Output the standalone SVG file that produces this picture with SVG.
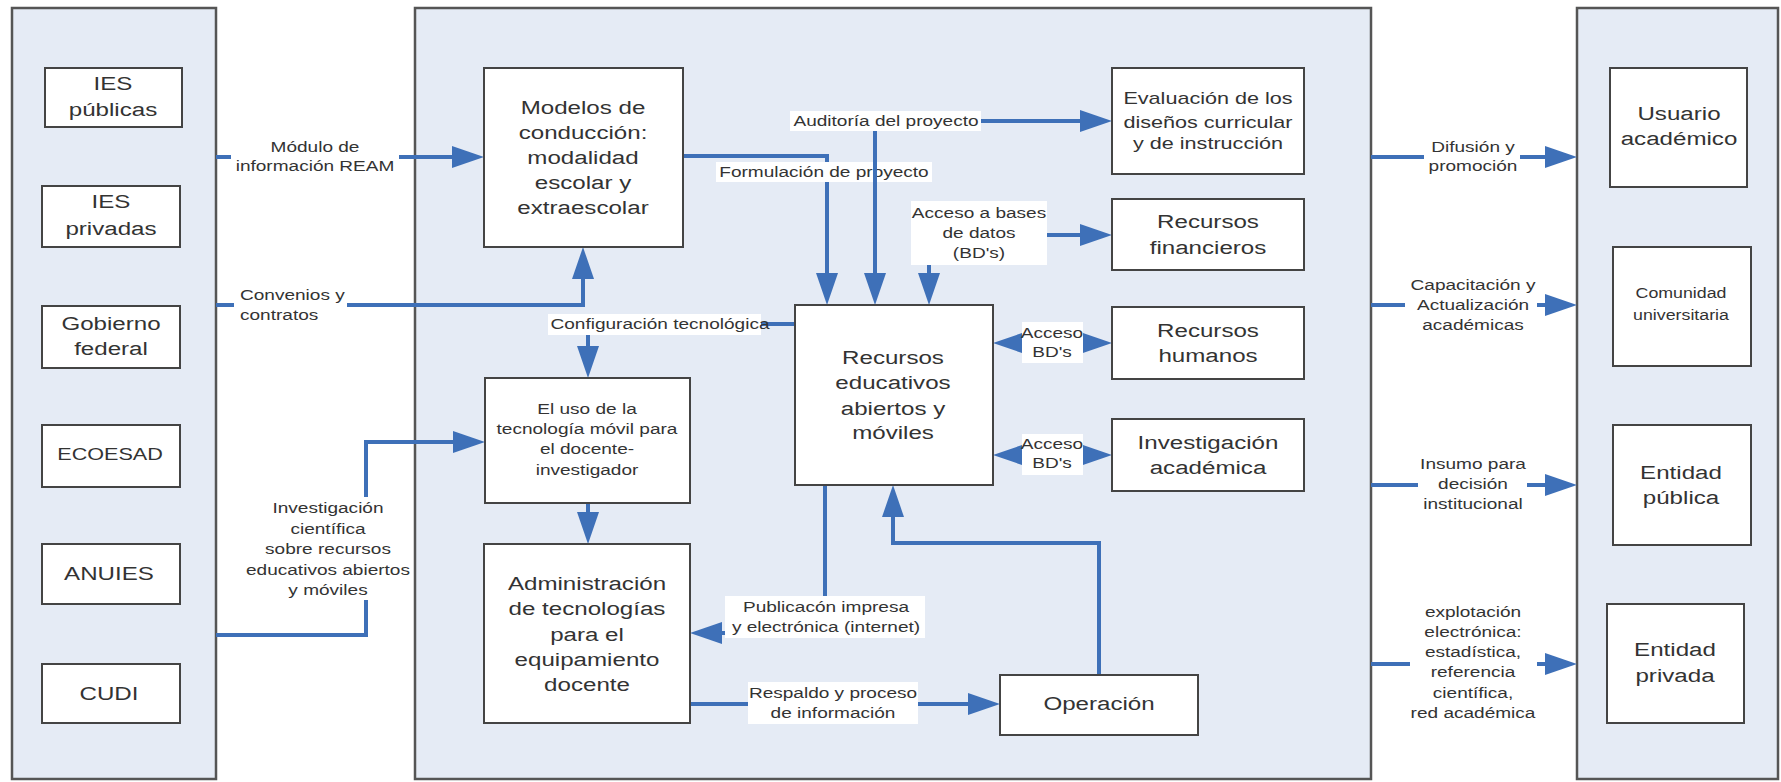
<svg xmlns="http://www.w3.org/2000/svg" width="1781" height="782" viewBox="0 0 1781 782">
<style>
.panel{fill:#e5ebf5;stroke:#555;stroke-width:2.5}
.box{fill:#fff;stroke:#444;stroke-width:2}
.ln{fill:none;stroke:#3e70b8;stroke-width:4}
.arr{marker-end:url(#ah)}
.dbl{marker-start:url(#ah);marker-end:url(#ah)}
.lb{fill:#fff}
text{font-family:"Liberation Sans",Arial,sans-serif;fill:#333;text-anchor:middle}
.t19{font-size:19px}
.t17{font-size:17px}
.t15{font-size:15px}
.t14{font-size:14px}
.st{text-anchor:start}
</style>
<defs>
<marker id="ah" markerUnits="userSpaceOnUse" markerWidth="32" markerHeight="22" viewBox="0 0 32 22" refX="24" refY="11" orient="auto-start-reverse">
<path d="M0,0 L32,11 L0,22 Z" fill="#3e70b8"/>
</marker>
</defs>

<g id="panels">
<rect id="panel-left" class="panel" x="12" y="8" width="204" height="771"/>
<rect id="panel-center" class="panel" x="415" y="8" width="956" height="771"/>
<rect id="panel-right" class="panel" x="1577" y="8" width="201" height="771"/>
</g>

<g id="connectors">
<path class="ln arr" d="M216,157 H476"/>
<path class="ln arr" d="M216,305 H583 V255"/>
<path class="ln arr" d="M216,635 H366 V442 H477"/>
<path class="ln arr" d="M683,156 H827 V297"/>
<path class="ln arr" d="M875,121 H1104"/>
<path class="ln arr" d="M1047,235 H1104"/>
<path class="ln arr" d="M929,255 V297"/>
<path class="ln" d="M760,324 H795"/>
<path class="ln arr" d="M588,324 V370"/>
<path class="ln dbl" d="M1001,343 H1104"/>
<path class="ln dbl" d="M1001,455 H1104"/>
<path class="ln arr" d="M588,503 V536"/>
<path class="ln arr" d="M825,485 V633 H698"/>
<path class="ln arr" d="M690,704 H992"/>
<path class="ln arr" d="M1099,675 V543 H893 V493"/>
<path class="ln arr" d="M1371,157 H1569"/>
<path class="ln arr" d="M1371,305 H1569"/>
<path class="ln arr" d="M1371,485 H1569"/>
<path class="ln arr" d="M1371,664 H1569"/>

<g id="labels">
<rect class="lb" x="231" y="137" width="168" height="39"/>
<text class="t15" transform="matrix(1.27 0 0 1 315 0)"><tspan x="0" y="152">Módulo de</tspan><tspan x="0" y="171">información REAM</tspan></text>

<rect class="lb" x="234" y="285" width="113" height="40"/>
<text class="t15 st" transform="matrix(1.27 0 0 1 240 0)"><tspan x="0" y="300">Convenios y</tspan><tspan x="0" y="320">contratos</tspan></text>

<rect class="lb" x="244" y="497" width="169" height="103"/>
<text class="t15" transform="matrix(1.27 0 0 1 328 0)"><tspan x="0" y="513">Investigación</tspan><tspan x="0" y="534">científica</tspan><tspan x="0" y="554">sobre recursos</tspan><tspan x="0" y="575">educativos abiertos</tspan><tspan x="0" y="595">y móviles</tspan></text>

<rect class="lb" x="716" y="162" width="216" height="20"/>
<text class="t15" transform="matrix(1.27 0 0 1 824 0)"><tspan x="0" y="177">Formulación de proyecto</tspan></text>

<rect class="lb" x="790" y="111" width="191" height="20"/>
<text class="t15" transform="matrix(1.27 0 0 1 886 0)"><tspan x="0" y="126">Auditoría del proyecto</tspan></text>
<path class="ln arr" d="M875,131 V297"/>

<rect class="lb" x="911" y="201" width="136" height="64"/>
<text class="t15" transform="matrix(1.27 0 0 1 979 0)"><tspan x="0" y="218">Acceso a bases</tspan><tspan x="0" y="238">de datos</tspan><tspan x="0" y="258">(BD's)</tspan></text>

<rect class="lb" x="548" y="314" width="213" height="21"/>
<text class="t15" transform="matrix(1.27 0 0 1 660 0)"><tspan x="0" y="329">Configuración tecnológica</tspan></text>

<rect class="lb" x="1022" y="322" width="61" height="41"/>
<text class="t15" transform="matrix(1.27 0 0 1 1052 0)"><tspan x="0" y="338">Acceso</tspan><tspan x="0" y="357">BD's</tspan></text>

<rect class="lb" x="1022" y="434" width="61" height="41"/>
<text class="t15" transform="matrix(1.27 0 0 1 1052 0)"><tspan x="0" y="449">Acceso</tspan><tspan x="0" y="468">BD's</tspan></text>

<rect class="lb" x="725" y="596" width="200" height="42"/>
<text class="t15" transform="matrix(1.27 0 0 1 826 0)"><tspan x="0" y="612">Publicacón impresa</tspan><tspan x="0" y="632">y electrónica (internet)</tspan></text>

<rect class="lb" x="748" y="682" width="170" height="42"/>
<text class="t15" transform="matrix(1.27 0 0 1 833 0)"><tspan x="0" y="698">Respaldo y proceso</tspan><tspan x="0" y="718">de información</tspan></text>

<rect class="lb" x="1424" y="137" width="96" height="39"/>
<text class="t15" transform="matrix(1.27 0 0 1 1473 0)"><tspan x="0" y="152">Difusión y</tspan><tspan x="0" y="171">promoción</tspan></text>

<rect class="lb" x="1405" y="275" width="132" height="61"/>
<text class="t15" transform="matrix(1.27 0 0 1 1473 0)"><tspan x="0" y="290">Capacitación y</tspan><tspan x="0" y="310">Actualización</tspan><tspan x="0" y="330">académicas</tspan></text>

<rect class="lb" x="1418" y="454" width="109" height="61"/>
<text class="t15" transform="matrix(1.27 0 0 1 1473 0)"><tspan x="0" y="469">Insumo para</tspan><tspan x="0" y="489">decisión</tspan><tspan x="0" y="509">institucional</tspan></text>

<rect class="lb" x="1410" y="601" width="127" height="123"/>
<text class="t15" transform="matrix(1.27 0 0 1 1473 0)"><tspan x="0" y="617">explotación</tspan><tspan x="0" y="637">electrónica:</tspan><tspan x="0" y="657">estadística,</tspan><tspan x="0" y="677">referencia</tspan><tspan x="0" y="698">científica,</tspan><tspan x="0" y="718">red académica</tspan></text>
</g>
</g>

<g id="node-ies-publicas"><rect class="box" x="45" y="68" width="137" height="59"/>
<text class="t19" transform="matrix(1.27 0 0 1 113 0)"><tspan x="0" y="90">IES</tspan><tspan x="0" y="116">públicas</tspan></text></g>
<g id="node-ies-privadas"><rect class="box" x="42" y="186" width="138" height="61"/>
<text class="t19" transform="matrix(1.27 0 0 1 111 0)"><tspan x="0" y="208">IES</tspan><tspan x="0" y="235">privadas</tspan></text></g>
<g id="node-gobierno"><rect class="box" x="42" y="306" width="138" height="62"/>
<text class="t19" transform="matrix(1.27 0 0 1 111 0)"><tspan x="0" y="330">Gobierno</tspan><tspan x="0" y="355">federal</tspan></text></g>
<g id="node-ecoesad"><rect class="box" x="42" y="425" width="138" height="62"/>
<text class="t17" transform="matrix(1.27 0 0 1 110 0)"><tspan x="0" y="460">ECOESAD</tspan></text></g>
<g id="node-anuies"><rect class="box" x="42" y="544" width="138" height="60"/>
<text class="t19" transform="matrix(1.27 0 0 1 109 0)"><tspan x="0" y="580">ANUIES</tspan></text></g>
<g id="node-cudi"><rect class="box" x="42" y="664" width="138" height="59"/>
<text class="t19" transform="matrix(1.27 0 0 1 109 0)"><tspan x="0" y="700">CUDI</tspan></text></g>

<g id="node-modelos"><rect class="box" x="484" y="68" width="199" height="179"/>
<text class="t19" transform="matrix(1.27 0 0 1 583 0)"><tspan x="0" y="114">Modelos de</tspan><tspan x="0" y="139">conducción:</tspan><tspan x="0" y="164">modalidad</tspan><tspan x="0" y="189">escolar y</tspan><tspan x="0" y="214">extraescolar</tspan></text></g>
<g id="node-uso"><rect class="box" x="485" y="378" width="205" height="125"/>
<text class="t15" transform="matrix(1.27 0 0 1 587 0)"><tspan x="0" y="414">El uso de la</tspan><tspan x="0" y="434">tecnología móvil para</tspan><tspan x="0" y="454">el docente-</tspan><tspan x="0" y="475">investigador</tspan></text></g>
<g id="node-admin"><rect class="box" x="484" y="544" width="206" height="179"/>
<text class="t19" transform="matrix(1.27 0 0 1 587 0)"><tspan x="0" y="590">Administración</tspan><tspan x="0" y="615">de tecnologías</tspan><tspan x="0" y="641">para el</tspan><tspan x="0" y="666">equipamiento</tspan><tspan x="0" y="691">docente</tspan></text></g>
<g id="node-recursos"><rect class="box" x="795" y="305" width="198" height="180"/>
<text class="t19" transform="matrix(1.27 0 0 1 893 0)"><tspan x="0" y="364">Recursos</tspan><tspan x="0" y="389">educativos</tspan><tspan x="0" y="415">abiertos y</tspan><tspan x="0" y="439">móviles</tspan></text></g>
<g id="node-evaluacion"><rect class="box" x="1112" y="68" width="192" height="106"/>
<text class="t17" transform="matrix(1.27 0 0 1 1208 0)"><tspan x="0" y="104">Evaluación de los</tspan><tspan x="0" y="128">diseños curricular</tspan><tspan x="0" y="149">y de instrucción</tspan></text></g>
<g id="node-financieros"><rect class="box" x="1112" y="199" width="192" height="71"/>
<text class="t19" transform="matrix(1.27 0 0 1 1208 0)"><tspan x="0" y="228">Recursos</tspan><tspan x="0" y="254">financieros</tspan></text></g>
<g id="node-humanos"><rect class="box" x="1112" y="307" width="192" height="72"/>
<text class="t19" transform="matrix(1.27 0 0 1 1208 0)"><tspan x="0" y="337">Recursos</tspan><tspan x="0" y="362">humanos</tspan></text></g>
<g id="node-investigacion"><rect class="box" x="1112" y="419" width="192" height="72"/>
<text class="t19" transform="matrix(1.27 0 0 1 1208 0)"><tspan x="0" y="449">Investigación</tspan><tspan x="0" y="474">académica</tspan></text></g>
<g id="node-operacion"><rect class="box" x="1000" y="675" width="198" height="60"/>
<text class="t19" transform="matrix(1.27 0 0 1 1099 0)"><tspan x="0" y="710">Operación</tspan></text></g>

<g id="node-usuario"><rect class="box" x="1610" y="68" width="137" height="119"/>
<text class="t19" transform="matrix(1.27 0 0 1 1679 0)"><tspan x="0" y="120">Usuario</tspan><tspan x="0" y="145">académico</tspan></text></g>
<g id="node-comunidad"><rect class="box" x="1613" y="247" width="138" height="119"/>
<text class="t14" transform="matrix(1.27 0 0 1 1681 0)"><tspan x="0" y="298">Comunidad</tspan><tspan x="0" y="320">universitaria</tspan></text></g>
<g id="node-publica"><rect class="box" x="1613" y="425" width="138" height="120"/>
<text class="t19" transform="matrix(1.27 0 0 1 1681 0)"><tspan x="0" y="479">Entidad</tspan><tspan x="0" y="504">pública</tspan></text></g>
<g id="node-privada"><rect class="box" x="1607" y="604" width="137" height="119"/>
<text class="t19" transform="matrix(1.27 0 0 1 1675 0)"><tspan x="0" y="656">Entidad</tspan><tspan x="0" y="682">privada</tspan></text></g>
</svg>
